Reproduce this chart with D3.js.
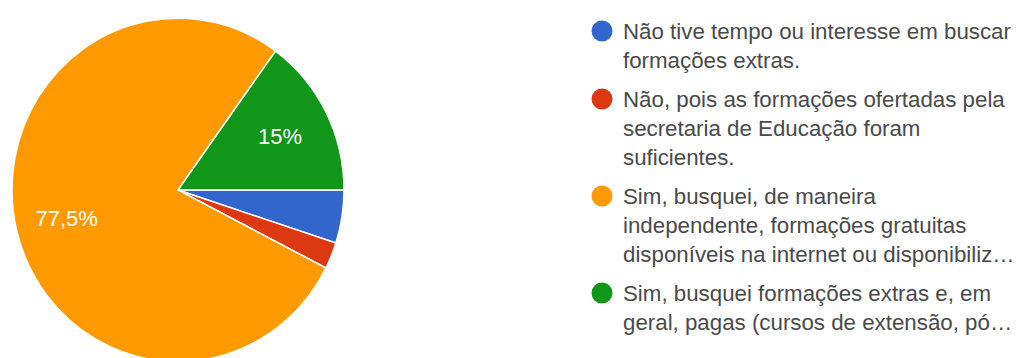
<!DOCTYPE html>
<html>
<head>
<meta charset="utf-8">
<script src="https://cdn.jsdelivr.net/npm/d3@7"></script>
<style>
  body { margin: 0; background: #fff; }
  svg { display: block; }
</style>
</head>
<body>
<script>
// answers (40 responses)
var categories = [
  "Não tive tempo ou interesse em buscar formações extras.",
  "Não, pois as formações ofertadas pela secretaria de Educação foram suficientes.",
  "Sim, busquei, de maneira independente, formações gratuitas disponíveis na internet ou disponibilizadas...",
  "Sim, busquei formações extras e, em geral, pagas (cursos de extensão, pós...)"
];
var legendLines = [
  ["Não tive tempo ou interesse em buscar", "formações extras."],
  ["Não, pois as formações ofertadas pela", "secretaria de Educação foram", "suficientes."],
  ["Sim, busquei, de maneira", "independente, formações gratuitas", "disponíveis na internet ou disponibiliz…"],
  ["Sim, busquei formações extras e, em", "geral, pagas (cursos de extensão, pó…"]
];
var values = [2, 1, 31, 6];
var pctLabels = ["5%", "2,5%", "77,5%", "15%"];
var colors = ["#3366cc", "#dc3912", "#ff9900", "#109618"];

var svg = d3.select("body")
      .append("svg")
      .attr("width", 1016)
      .attr("height", 358)

var r = 166;
var cx = 178, cy = 190;
var sy = 1.035;

var pie = d3.pie()
  .sort(null)
  .value(function(d){ return d })
  .startAngle(Math.PI / 2)
  .endAngle(Math.PI / 2 + 2 * Math.PI);

var arcs = pie(values);
var arc = d3.arc().innerRadius(0).outerRadius(r);

var g = svg.append("g")
  .attr("transform", "translate(" + cx + "," + cy + ") scale(1," + sy + ")");

g.selectAll("path")
  .data(arcs)
  .enter().append("path")
  .attr("d", arc)
  .attr("fill", function(d, i){ return colors[i] })
  .attr("stroke", "#fff")
  .attr("stroke-width", 1.5);

// only slices big enough get a label
var labelArc = d3.arc().innerRadius(r * 0.69).outerRadius(r * 0.69);
svg.append("g")
  .attr("transform", "translate(" + cx + "," + cy + ")")
  .selectAll("text")
  .data(arcs.filter(function(d){ return d.endAngle - d.startAngle > 0.5 }))
  .enter().append("text")
  .attr("x", function(d){ return labelArc.centroid(d)[0] })
  .attr("y", function(d){ return labelArc.centroid(d)[1] * sy })
  .attr("dy", "0.36em")
  .attr("text-anchor", "middle")
  .attr("fill", "#fff")
  .style("font-family", "'Liberation Sans', Arial, sans-serif")
  .style("font-size", "22px")
  .text(function(d){ return pctLabels[d.index] });

// legend
var lineH = 29, gapH = 10;
var legend = svg.append("g").attr("transform", "translate(602,0)");
var yPos = 31;
legendLines.forEach(function(lines, i) {
  var item = legend.append("g").attr("transform", "translate(0," + yPos + ")");
  item.append("circle")
    .attr("r", 10.5)
    .attr("fill", colors[i]);
  item.selectAll("text")
    .data(lines)
    .enter().append("text")
    .attr("x", 21)
    .attr("y", function(d, j){ return j * lineH })
    .attr("dy", "0.35em")
    .attr("fill", "#4a4a4a")
    .style("font-family", "'Liberation Sans', Arial, sans-serif")
    .style("font-size", "22.3px")
    .text(function(d){ return d });
  yPos += lines.length * lineH + gapH;
});
</script>
</body>
</html>
